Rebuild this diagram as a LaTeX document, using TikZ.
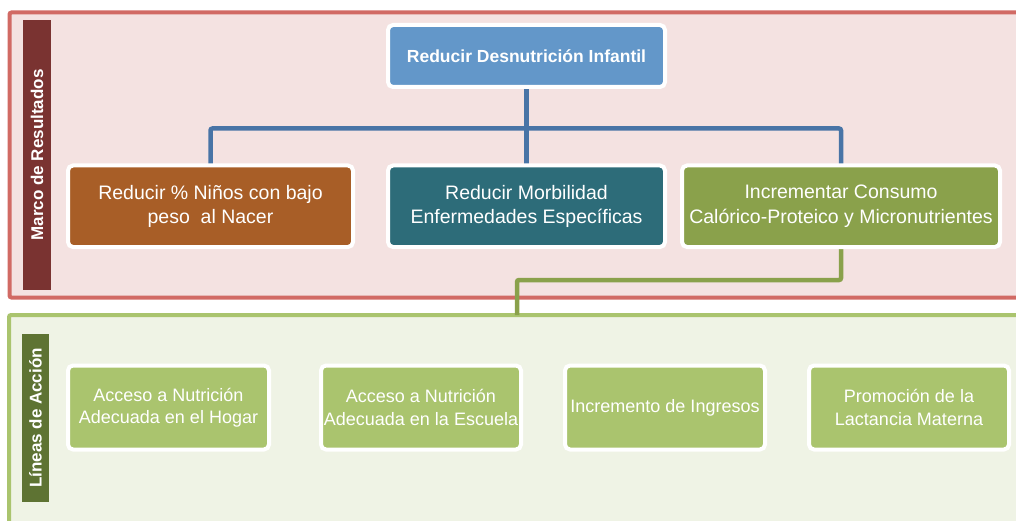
\documentclass[tikz,border=0pt]{standalone}
\usepackage{fontspec}
\setmainfont{Liberation Sans}
\usepackage{tikz}
\usetikzlibrary{positioning,backgrounds}
\definecolor{framered}{RGB}{209, 106, 100}
\definecolor{framepink}{RGB}{244, 226, 225}
\definecolor{marcored}{RGB}{122, 51, 49}
\definecolor{goalblue}{RGB}{99, 151, 201}
\definecolor{lineblue}{RGB}{72, 116, 166}
\definecolor{resorange}{RGB}{168, 94, 39}
\definecolor{resteal}{RGB}{45, 108, 121}
\definecolor{resgreen}{RGB}{138, 161, 75}
\definecolor{actgreen}{RGB}{170, 196, 110}
\definecolor{framegreen}{RGB}{239, 243, 229}
\definecolor{accionbar}{RGB}{94, 115, 51}
\tikzstyle{box} = [rectangle, rounded corners=5pt, draw=white, line width=4pt, text=white, align=center, inner sep=0pt, outer sep=0pt, font=\fontsize{19.5}{24.5}\selectfont]
\tikzstyle{goal} = [box, fill=goalblue, minimum width=277pt, minimum height=62pt, font=\bfseries\fontsize{17.5}{22}\selectfont]
\tikzstyle{result} = [box, minimum height=81.5pt]
\tikzstyle{action} = [box, fill=actgreen, minimum width=200pt, minimum height=84pt, font=\fontsize{18}{22.5}\selectfont]
\tikzstyle{sidebar} = [rectangle, rotate=90, text=white, inner sep=0pt, font=\bfseries\fontsize{17}{20}\selectfont]
\tikzstyle{tedge}  = [draw, line width=4.5pt, rounded corners=2pt]
\begin{document}
\begin{tikzpicture}[x=1pt, y=-1pt]
\useasboundingbox (0,0) rectangle (1016,521);
\clip (0,0) rectangle (1016,521);

% results ================================

\node[sidebar, fill=marcored, minimum width=270pt, minimum height=28pt] (marco) at (37,155) {Marco de Resultados};

% goal
\node[goal] (goal) at (526.5,56) {Reducir Desnutrición Infantil};

% three results
\node[result, fill=resteal, minimum width=277pt, below=78.5pt of goal] (res2) {Reducir Morbilidad\\Enfermedades Específicas};
\node[result, fill=resorange, minimum width=285pt, left=35pt of res2] (res1) {Reducir \% Niños con bajo\\peso\ \ al Nacer};
\node[result, fill=resgreen, minimum width=318pt, right=17pt of res2] (res3) {Incrementar Consumo\\Calórico-Proteico y Micronutrientes};

% actions ================================

\node[sidebar, fill=accionbar, minimum width=168pt, minimum height=27pt] (accion) at (35.5,418) {Líneas de Acción};

\node[action, minimum width=201pt] (act1) at (168.5,407.5) {Acceso a Nutrición\\Adecuada en el Hogar};
\node[action, right=52pt of act1] (act2) {Acceso a Nutrición\\Adecuada en la Escuela};
\node[action, right=44pt of act2] (act3) {Incremento de Ingresos};
\node[action, right=44pt of act3] (act4) {Promoción de la\\Lactancia Materna};

\coordinate (hbar) at (526.5,128.5);
\coordinate (gjoin) at (517,280);
\coordinate (gtop) at (517,315);

\begin{pgfonlayer}{background}
% frames
\draw[draw=framered, fill=framepink, line width=4pt, rounded corners=2pt] (9.5,12.5) rectangle (1040,297.5);
\draw[draw=actgreen, fill=framegreen, line width=4pt, rounded corners=2pt] (9,315) rectangle (1040,560);

%edges
\path[tedge, draw=lineblue] (goal) -- (res2);
\path[tedge, draw=lineblue] (res1.north) |- (hbar) -| (res3.north);
\path[tedge, draw=resgreen] (res3.south) |- (gjoin) -- (gtop);
\end{pgfonlayer}

\end{tikzpicture}
\end{document}
